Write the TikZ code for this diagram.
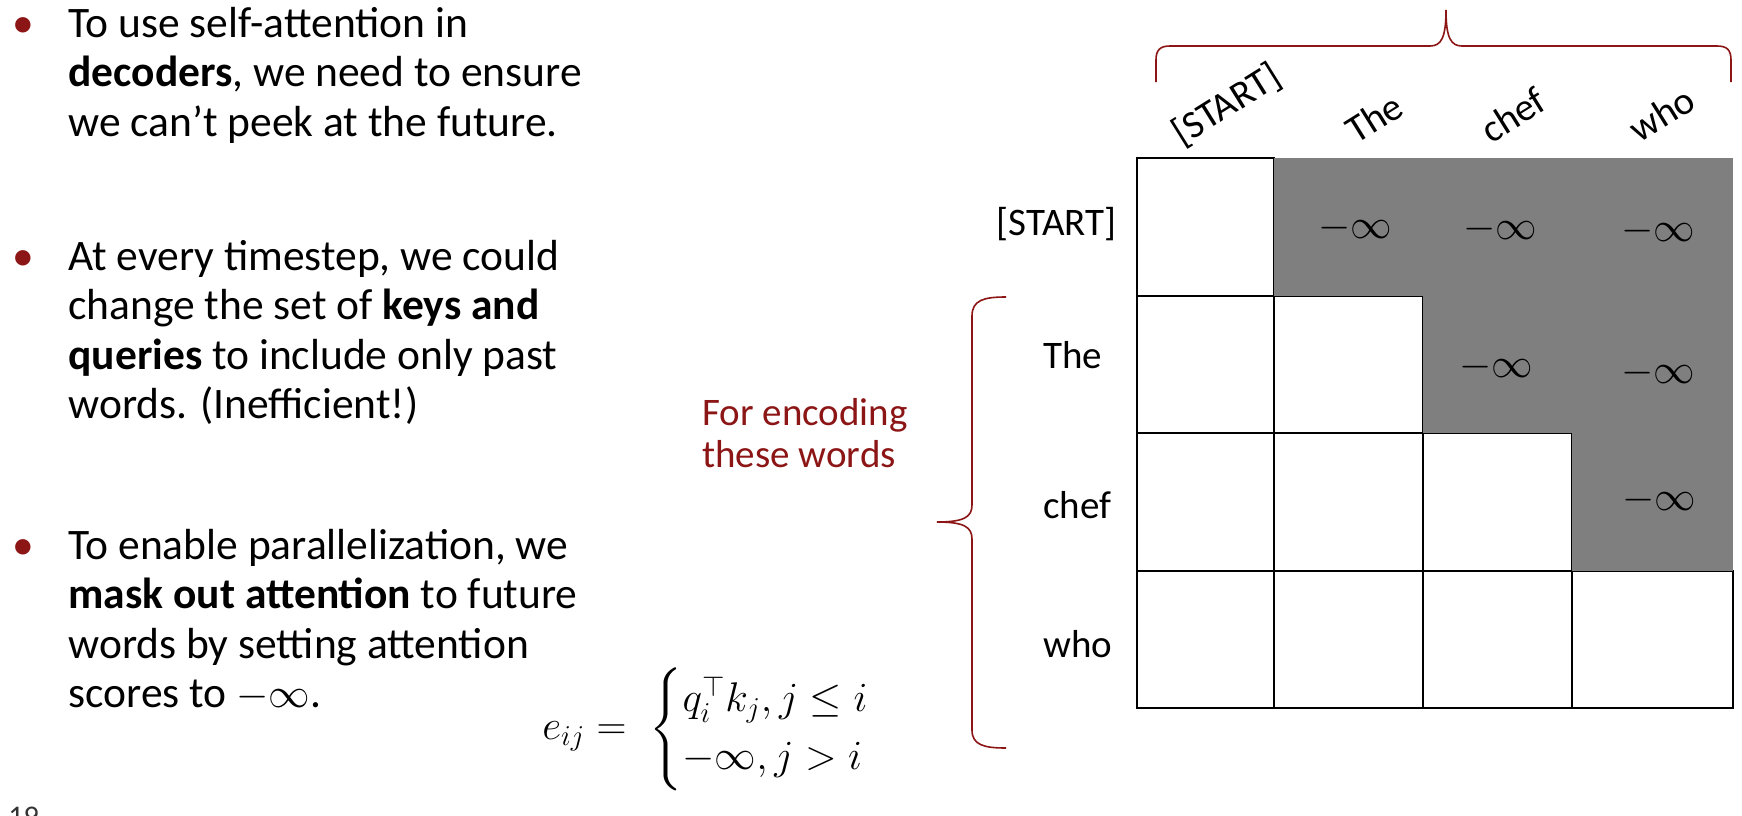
\documentclass[tikz,border=0pt]{standalone}
\usepackage[no-math]{fontspec}
\usepackage{amsmath}
\usepackage{amssymb}
\setmainfont{Carlito}
\definecolor{cardinal}{RGB}{140,21,21}
\definecolor{maskgrey}{RGB}{127,127,127}

\tikzset{
	bodytext/.style={anchor=base west, align=left, inner sep=0pt, font=\fontsize{21.75}{24.75}\selectfont},
	dot/.style={anchor=base, inner sep=0pt, text=cardinal, font=\fontsize{21.75}{24.75}\selectfont},
	word/.style={inner sep=0pt, font=\fontsize{19.5}{21}\selectfont},
	colword/.style={word, rotate=32},
	cell/.style={draw=black, line width=1pt, fill=white, inner sep=0pt, outer sep=0pt, minimum height=68.75pt},
	masked/.style={fill=maskgrey, inner sep=0pt, outer sep=0pt, minimum height=68.75pt},
	ninf/.style={inner sep=0pt, font=\fontsize{20}{22}\selectfont},
	curly/.style={draw=cardinal, line width=0.8pt},
	colA/.style={minimum width=68.5pt},
	colB/.style={minimum width=74.5pt},
	colC/.style={minimum width=74.5pt},
	colD/.style={minimum width=80.5pt},
}

\begin{document}
\begin{tikzpicture}[x=0.5pt, y=-0.5pt]
	
	\clip (0,0) rectangle (1742,815);
	\fill[white] (0,0) rectangle (1742,815);
	
	\node[dot] (d1) at (23,37)  {\textbullet};
	\node[dot] (d2) at (23,270) {\textbullet};
	\node[dot] (d3) at (23,559) {\textbullet};
	
	% anchored at the baseline of the last line
	\node[bodytext] (t1) at (68,136)   {To use self-attention in\\ \textbf{decoders}, we need to ensure\\ we can’t peek at the future.};
	\node[bodytext] (t2) at (68,418.5) {At every timestep, we could\\ change the set of \textbf{keys and}\\ \textbf{queries} to include only past\\ words. (Inefficient!)};
	\node[bodytext] (t3) at (68,707.5) {To enable parallelization, we\\ \textbf{mask out attention} to future\\ words by setting attention\\ scores to $-\infty$.};
	
	\node[anchor=base west, inner sep=0pt, text=black!80, font=\fontsize{15}{18}\selectfont] (pg) at (8,826) {19};
	
	\node[anchor=west, inner sep=0pt, font=\fontsize{20.5}{24}\selectfont] (eq) at (542,729) {$\renewcommand{\arraystretch}{1.3}e_{ij} =\; \begin{cases} q_i^{\top} k_j, j \le i\\ -\infty, j > i \end{cases}$};
	
	\node[word, anchor=base west, align=left, text=cardinal] (enc) at (702,467) {For encoding\\these words};
	
	% grid of scores
	\node[cell, colA] (m11) at (1205.5,227) {};
	\node[cell, colA] (m21) at (1205.5,364.5) {};
	\node[cell, colB] (m22) at (1348.5,364.5) {};
	\node[cell, colA] (m31) at (1205.5,502) {};
	\node[cell, colB] (m32) at (1348.5,502) {};
	\node[cell, colC] (m33) at (1497.5,502) {};
	\node[cell, colA] (m41) at (1205.5,639.5) {};
	\node[cell, colB] (m42) at (1348.5,639.5) {};
	\node[cell, colC] (m43) at (1497.5,639.5) {};
	\node[cell, colD] (m44) at (1652.5,639.5) {};
	
	\node[masked, colB] (m12) at (1348.5,227) {};
	\node[masked, colC] (m13) at (1497.5,227) {};
	\node[masked, colD] (m14) at (1652.5,227) {};
	\node[masked, colC] (m23) at (1497.5,364.5) {};
	\node[masked, colD] (m24) at (1652.5,364.5) {};
	\node[masked, colD] (m34) at (1652.5,502) {};
	
	\node[ninf] (n12) at (1355,228) {$-\infty$};
	\node[ninf] (n13) at (1500,229) {$-\infty$};
	\node[ninf] (n14) at (1658,231) {$-\infty$};
	\node[ninf] (n23) at (1496,367) {$-\infty$};
	\node[ninf] (n24) at (1658,373) {$-\infty$};
	\node[ninf] (n34) at (1659,500) {$-\infty$};
	
	\node[word, anchor=base east] (r1) at (1117,235) {[START]};
	\node[word, anchor=base west] (r2) at (1043,368) {The};
	\node[word, anchor=base west] (r3) at (1043,518) {chef};
	\node[word, anchor=base west] (r4) at (1043,657) {who};
	
	\node[colword] (k1) at (1227,105) {[START]};
	\node[colword] (k2) at (1374,118) {The};
	\node[colword] (k3) at (1513,115) {chef};
	\node[colword] (k4) at (1662,114) {who};
	
	% braces
	\draw[curly] (1156,82) -- (1156,60) .. controls (1156,50) and (1160,46) .. (1170,46) -- (1430,46) .. controls (1441,46) and (1446,38) .. (1446,10) .. controls (1446,38) and (1451,46) .. (1462,46) -- (1717,46) .. controls (1727,46) and (1731,50) .. (1731,60) -- (1731,82);
	\draw[curly] (1006,297) .. controls (984,297) and (972,300) .. (972,316) -- (972,505) .. controls (972,517) and (964,522) .. (937,522) .. controls (964,522) and (972,527) .. (972,539) -- (972,730) .. controls (972,745) and (984,748) .. (1006,748);
	
\end{tikzpicture}
\end{document}
